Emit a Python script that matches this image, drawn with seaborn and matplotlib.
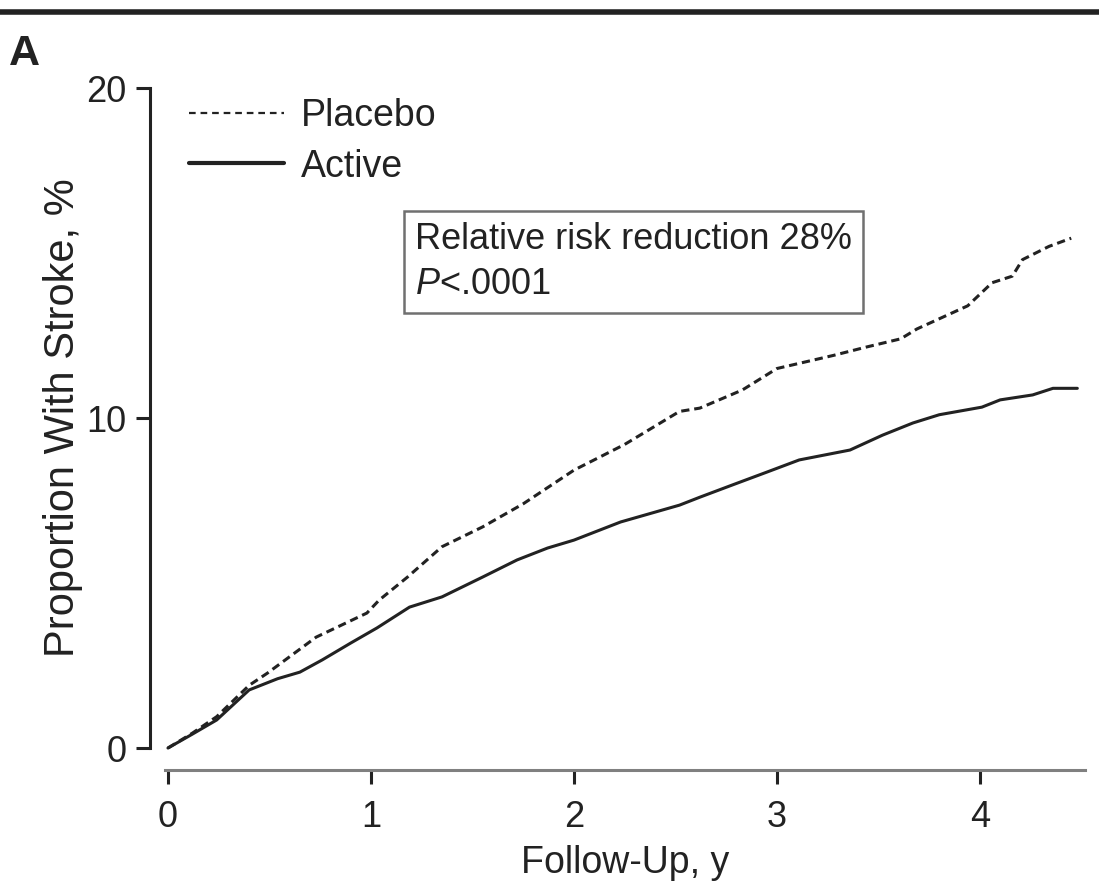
import matplotlib
matplotlib.use("Agg")
import matplotlib.pyplot as plt
import seaborn as sns
import pandas as pd
from matplotlib.lines import Line2D

# Cumulative stroke incidence (%) by follow-up year
placebo_years = [0.0, 0.12, 0.24, 0.40, 0.49, 0.73, 0.98, 1.04, 1.18, 1.35, 1.55, 1.75,
                 2.00, 2.25, 2.52, 2.62, 2.83, 3.00, 3.28, 3.44, 3.61, 3.69, 3.94,
                 4.06, 4.16, 4.21, 4.34, 4.45]
placebo_pct = [0.0, 0.45, 0.95, 1.9, 2.27, 3.36, 4.09, 4.48, 5.18, 6.1, 6.7, 7.4,
               8.42, 9.2, 10.2, 10.3, 10.85, 11.5, 11.9, 12.15, 12.4, 12.7, 13.4,
               14.1, 14.3, 14.8, 15.2, 15.45]

active_years = [0.0, 0.12, 0.24, 0.40, 0.54, 0.65, 0.76, 0.90, 1.03, 1.19, 1.35, 1.55,
                1.72, 1.87, 2.00, 2.23, 2.52, 2.62, 2.78, 2.95, 3.11, 3.36, 3.52,
                3.67, 3.80, 4.01, 4.10, 4.26, 4.36, 4.48]
active_pct = [0.0, 0.42, 0.85, 1.76, 2.1, 2.3, 2.67, 3.18, 3.64, 4.27, 4.58, 5.18,
              5.7, 6.06, 6.3, 6.85, 7.36, 7.6, 7.97, 8.36, 8.73, 9.03, 9.48,
              9.85, 10.1, 10.33, 10.55, 10.7, 10.9, 10.9]

group_names = ["Placebo", "Active"]
x_ticks = [0, 1, 2, 3, 4]
y_ticks = [0, 10, 20]

df = pd.concat([
    pd.DataFrame({"years": placebo_years, "pct": placebo_pct, "group": group_names[0]}),
    pd.DataFrame({"years": active_years, "pct": active_pct, "group": group_names[1]}),
])

sns.set_style("ticks")
plt.rcParams["font.family"] = ["Liberation Sans", "DejaVu Sans"]
plt.rcParams["mathtext.fontset"] = "custom"
plt.rcParams["mathtext.it"] = "Liberation Sans:italic"
plt.rcParams["mathtext.rm"] = "Liberation Sans"

ink = "#222222"
fig = plt.figure(figsize=(10.99, 8.88), dpi=100)
ax = fig.add_axes([0.1436, 0.1502, 0.8496, 0.7581])

sns.lineplot(data=df, x="years", y="pct", hue="group", style="group",
             palette={"Placebo": ink, "Active": ink},
             dashes={"Placebo": (2.7, 1.6), "Active": ""},
             linewidth=2.2, sort=False, estimator=None, legend=False, ax=ax)

ax.set_xlim(-0.05, 4.55)
ax.set_ylim(-0.2, 20.2)
ax.set_xticks(x_ticks)
ax.set_yticks(y_ticks)
ax.set_xticklabels([str(v) for v in x_ticks])
ax.set_yticklabels([str(v) for v in y_ticks])

for side in ("top", "right"):
    ax.spines[side].set_visible(False)
ax.spines["left"].set_position(("outward", 5.7))
ax.spines["bottom"].set_position(("outward", 11))
ax.spines["left"].set_bounds(0, 20)
ax.spines["bottom"].set_bounds(-0.015, 4.52)
ax.spines["left"].set_linewidth(2.2)
ax.spines["left"].set_color(ink)
ax.spines["bottom"].set_linewidth(2.2)
ax.spines["bottom"].set_color("#808080")

ax.tick_params(axis="both", direction="out", length=10, width=2.2, color=ink,
               labelsize=26, labelcolor=ink)
ax.tick_params(axis="x", pad=12)
ax.tick_params(axis="y", pad=7)

ax.set_xlabel("Follow-Up, y", fontsize=27, color=ink, labelpad=7)
ax.set_ylabel("Proportion With Stroke, %", fontsize=30, color=ink, labelpad=2)

handles = [
    Line2D([], [], color=ink, linewidth=1.6, linestyle=(0, (3.0, 2.2))),
    Line2D([], [], color=ink, linewidth=3.0),
]
ax.legend(handles, group_names, frameon=False, fontsize=27,
          loc="upper left", bbox_to_anchor=(-0.003, 1.025),
          handlelength=2.55, handletextpad=0.45, labelspacing=0.38,
          labelcolor=ink)

ax.text(0.2754, 0.7317, "Relative risk reduction 28%\n$P$<.0001",
        transform=ax.transAxes, fontsize=26, color=ink, va="center", ha="left",
        linespacing=1.4,
        bbox=dict(boxstyle="square,pad=0.3", facecolor="white",
                  edgecolor="#707070", linewidth=1.8))

# Panel letter and rule across the top
fig.text(0.008, 0.939, "A", fontsize=31, fontweight="bold", color=ink,
         va="center", ha="left")
fig.add_artist(Line2D([0, 1], [0.9865, 0.9865], transform=fig.transFigure,
                      color=ink, linewidth=4))

fig.savefig("out.png", dpi=100, facecolor="white")
